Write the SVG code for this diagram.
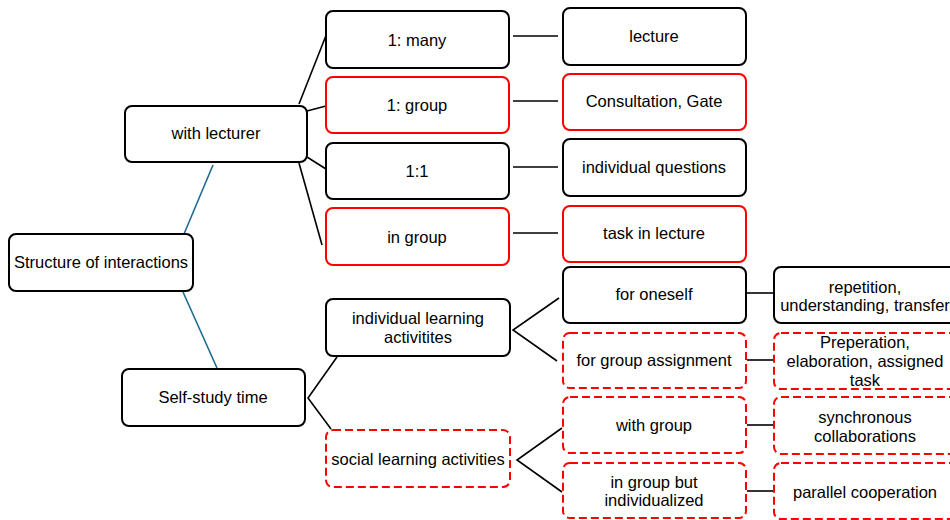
<svg xmlns="http://www.w3.org/2000/svg" width="950" height="520" viewBox="0 0 950 520">
<style>
  .box { fill: #ffffff; stroke: #000000; stroke-width: 2; }
  .red { fill: #ffffff; stroke: #ff0000; stroke-width: 2; }
  .dash { fill: #ffffff; stroke: #ff0000; stroke-width: 2; stroke-dasharray: 8 4; }
  .lbl { font-family: "Liberation Sans", Arial, sans-serif; font-size: 16.5px; fill: #000000; text-anchor: middle; dominant-baseline: central; }
  .con { stroke: #000000; stroke-width: 1.6; fill: none; }
  .blue { stroke: #1f6a8f; stroke-width: 1.6; fill: none; }
</style>
<rect width="950" height="520" fill="#ffffff"/>
<g id="connectors">
  <line class="blue" x1="213" y1="165" x2="184" y2="234"/>
  <line class="blue" x1="183" y1="292" x2="217" y2="368"/>
  <line class="con" x1="299" y1="104" x2="327" y2="33"/>
  <line class="con" x1="307" y1="111" x2="326" y2="106"/>
  <line class="con" x1="307" y1="157" x2="326" y2="169"/>
  <line class="con" x1="299" y1="163" x2="322" y2="245"/>
  <line class="con" x1="513" y1="36" x2="558" y2="36"/>
  <line class="con" x1="513" y1="101" x2="558" y2="101"/>
  <line class="con" x1="513" y1="167" x2="558" y2="167"/>
  <line class="con" x1="513" y1="233" x2="558" y2="233"/>
  <polyline class="con" points="337,357 308,398 331,429"/>
  <polyline class="con" points="559,298 513,330 557,361"/>
  <polyline class="con" points="562,428 517,460 562,492"/>
  <line class="con" x1="747" y1="293" x2="774" y2="293"/>
  <line class="con" x1="747" y1="360" x2="774" y2="360"/>
  <line class="con" x1="747" y1="425" x2="774" y2="425"/>
  <line class="con" x1="747" y1="491" x2="774" y2="491"/>
</g>
<g id="n-structure"><rect class="box" x="9" y="234" width="184" height="57" rx="7"/><text class="lbl" x="101" y="262">Structure of interactions</text></g>
<g id="n-lecturer"><rect class="box" x="125" y="106" width="182" height="56" rx="7"/><text class="lbl" x="216" y="133">with lecturer</text></g>
<g id="n-selfstudy"><rect class="box" x="122" y="369" width="183" height="57" rx="7"/><text class="lbl" x="213" y="397">Self-study time</text></g>
<g id="n-1many"><rect class="box" x="326" y="11" width="183" height="57" rx="7"/><text class="lbl" x="417" y="40">1: many</text></g>
<g id="n-1group"><rect class="red" x="326" y="77" width="183" height="56" rx="7"/><text class="lbl" x="417" y="105">1: group</text></g>
<g id="n-11"><rect class="box" x="326" y="143" width="183" height="56" rx="7"/><text class="lbl" x="417" y="171">1:1</text></g>
<g id="n-ingroup"><rect class="red" x="326" y="208" width="183" height="57" rx="7"/><text class="lbl" x="417" y="237">in group</text></g>
<g id="n-lecture"><rect class="box" x="563" y="8" width="183" height="57" rx="7"/><text class="lbl" x="654" y="36">lecture</text></g>
<g id="n-consult"><rect class="red" x="563" y="74" width="183" height="56" rx="7"/><text class="lbl" x="654" y="101">Consultation, Gate</text></g>
<g id="n-indq"><rect class="box" x="563" y="139" width="183" height="57" rx="7"/><text class="lbl" x="654" y="167">individual questions</text></g>
<g id="n-task"><rect class="red" x="563" y="206" width="183" height="56" rx="7"/><text class="lbl" x="654" y="233">task in lecture</text></g>
<g id="n-indiv"><rect class="box" x="326" y="299" width="184" height="57" rx="7"/><text class="lbl" x="418" y="318">individual learning</text><text class="lbl" x="418" y="337">activitites</text></g>
<g id="n-social"><rect class="dash" x="326" y="430" width="184" height="57" rx="7"/><text class="lbl" x="418" y="459">social learning activities</text></g>
<g id="n-oneself"><rect class="box" x="563" y="267" width="183" height="56" rx="7"/><text class="lbl" x="654" y="294">for oneself</text></g>
<g id="n-groupassign"><rect class="dash" x="563" y="333" width="183" height="55" rx="7"/><text class="lbl" x="654" y="360">for group assignment</text></g>
<g id="n-withgroup"><rect class="dash" x="563" y="397" width="183" height="56" rx="7"/><text class="lbl" x="654" y="425">with group</text></g>
<g id="n-ingroupind"><rect class="dash" x="563" y="463" width="183" height="55" rx="7"/><text class="lbl" x="654" y="482">in group but</text><text class="lbl" x="654" y="500">individualized</text></g>
<g id="n-repetition"><rect class="box" x="774" y="267" width="183" height="56" rx="7"/><text class="lbl" x="865" y="287">repetition,</text><text class="lbl" x="865" y="305">understanding, transfer</text></g>
<g id="n-preparation"><rect class="dash" x="774" y="333" width="183" height="56" rx="7"/><text class="lbl" x="865" y="342">Preperation,</text><text class="lbl" x="865" y="361">elaboration, assigned</text><text class="lbl" x="865" y="380">task</text></g>
<g id="n-sync"><rect class="dash" x="774" y="397" width="183" height="57" rx="7"/><text class="lbl" x="865" y="417">synchronous</text><text class="lbl" x="865" y="436">collaborations</text></g>
<g id="n-parallel"><rect class="dash" x="774" y="463" width="183" height="56" rx="7"/><text class="lbl" x="865" y="492">parallel cooperation</text></g>
</svg>
